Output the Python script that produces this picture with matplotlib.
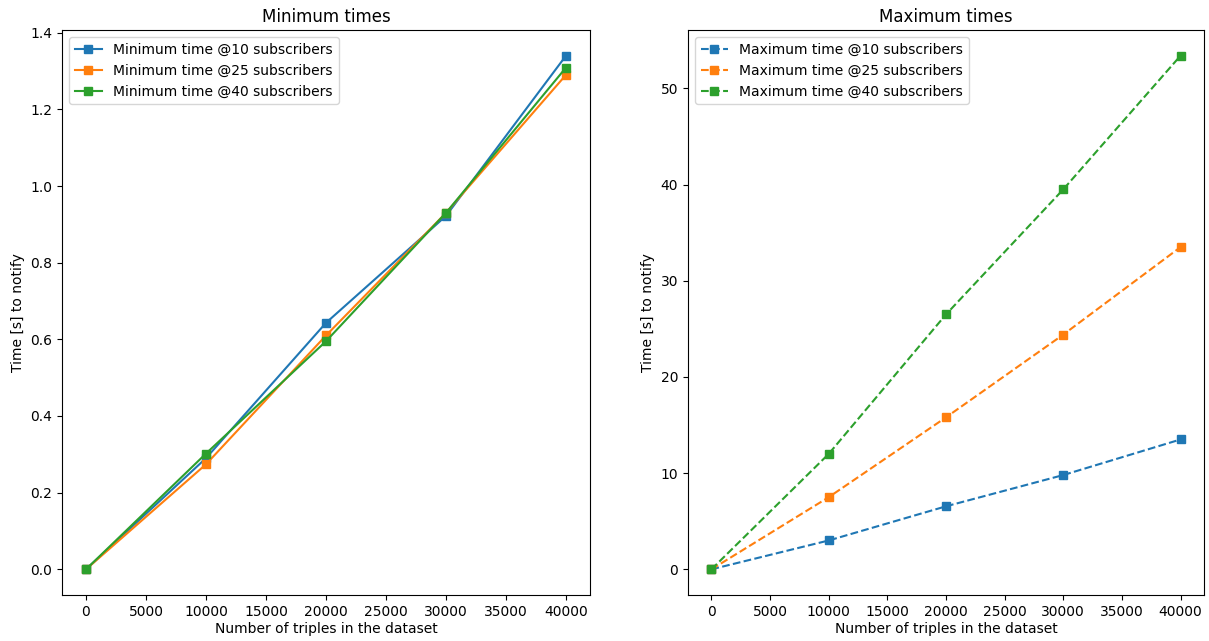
import matplotlib
matplotlib.use("Agg")
import matplotlib.pyplot as plt

# dataset sizes (number of triples)
triples = [0, 10000, 20000, 30000, 40000]

# minimum notification times [s]
min_10 = [0.0, 0.29, 0.643, 0.922, 1.340]
min_25 = [0.0, 0.274, 0.610, 0.930, 1.290]
min_40 = [0.0, 0.302, 0.595, 0.930, 1.309]

# maximum notification times [s]
max_10 = [0.0, 3.0, 6.55, 9.8, 13.5]
max_25 = [0.0, 7.5, 15.8, 24.4, 33.5]
max_40 = [0.0, 12.0, 26.5, 39.5, 53.4]

subscribers = [10, 25, 40]

fig = plt.figure(figsize=(12.09, 6.41), dpi=100)
W, H = 1209, 641
bottom, top = 595, 30
ax1 = fig.add_axes([62 / W, 1 - bottom / H, (590 - 62) / W, (bottom - top) / H])
ax2 = fig.add_axes([688 / W, 1 - bottom / H, (1204 - 688) / W, (bottom - top) / H])

for n, ys in zip(subscribers, [min_10, min_25, min_40]):
    ax1.plot(triples, ys, marker="s", label="Minimum time @%d subscribers" % n)
ax1.set_title("Minimum times")
ax1.set_xlabel("Number of triples in the dataset", labelpad=2)
ax1.set_ylabel("Time [s] to notify")
ax1.set_xticks(range(0, 40001, 5000))
ax1.legend(loc="upper left")

for n, ys in zip(subscribers, [max_10, max_25, max_40]):
    ax2.plot(triples, ys, marker="s", linestyle="--", label="Maximum time @%d subscribers" % n)
ax2.set_title("Maximum times")
ax2.set_xlabel("Number of triples in the dataset", labelpad=2)
ax2.set_ylabel("Time [s] to notify")
ax2.set_xticks(range(0, 40001, 5000))
ax2.legend(loc="upper left")

fig.savefig("out.png", dpi=100)
